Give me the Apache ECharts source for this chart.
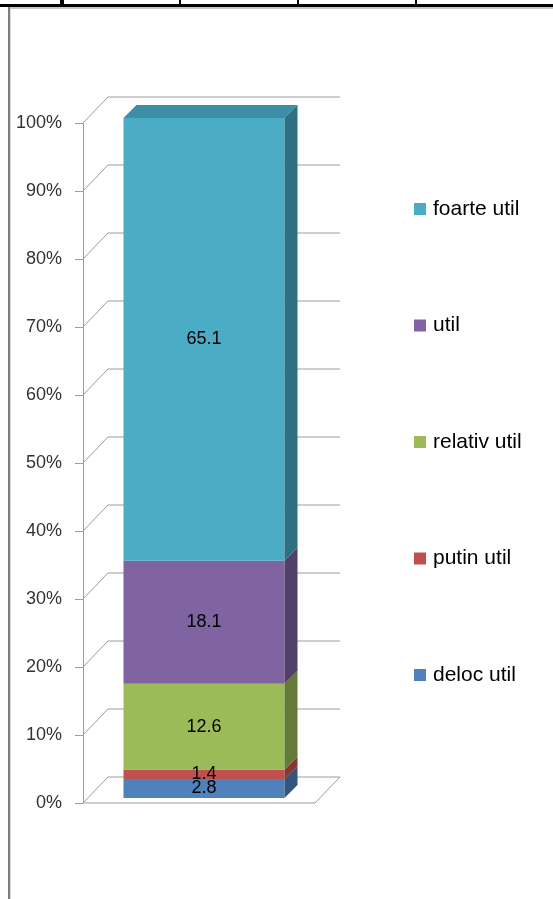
<!DOCTYPE html>
<html>
<head>
<meta charset="utf-8">
<script src="https://cdn.jsdelivr.net/npm/echarts@6/dist/echarts.min.js"></script>
<style>
  html, body { margin: 0; padding: 0; background: #ffffff; }
  #chart { width: 553px; height: 899px; }
</style>
</head>
<body>
<div id="chart"></div>
<script>
// Answer categories, stacked bottom to top, and their shares (%)
const categories = ['deloc util', 'putin util', 'relativ util', 'util', 'foarte util'];
const values = [2.8, 1.4, 12.6, 18.1, 65.1];
const faceColors = ['#4F81BD', '#C0504D', '#9BBB59', '#8064A2', '#4BACC6'];
const sideColors = ['#34557D', '#853735', '#647A38', '#52406B', '#2F6F82'];
const topColor = '#3B8EA5';
const yTicks = [0, 10, 20, 30, 40, 50, 60, 70, 80, 90, 100];
const legendOrder = ['foarte util', 'util', 'relativ util', 'putin util', 'deloc util'];

// 3D look: offsets in pixels
const WALL_DEPTH = [25, -26];   // front plane -> back wall
const BAR_SHIFT = [5, -5];      // front plane -> bar front face
const BAR_DEPTH = [13, -13];    // bar front face -> bar back face
const BAR_RATIO = 0.694;        // bar width as share of the category band
const FONT = '"Liberation Sans", Arial, sans-serif';
const GRID_COLOR = '#9c9c9c';

const chart = echarts.init(document.getElementById('chart'), null, { renderer: 'canvas' });

// Back wall gridlines and floor, one item per tick value
const wallSeries = {
  type: 'custom',
  name: 'wall',
  silent: true,
  z: 1,
  data: yTicks.map(v => [0, v]),
  renderItem: function (params, api) {
    const v = api.value(1);
    const p = api.coord([0, v]);
    const bw = api.size([1, 0])[0];
    const left = p[0] - bw / 2;
    const right = p[0] + bw / 2;
    const y = p[1];
    const style = { stroke: GRID_COLOR, lineWidth: 1, fill: null };
    const children = [{
      type: 'polyline',
      shape: { points: [[left, y], [left + WALL_DEPTH[0], y + WALL_DEPTH[1]], [right + WALL_DEPTH[0], y + WALL_DEPTH[1]]] },
      style: style
    }];
    if (v === 0) {
      children.push({
        type: 'polyline',
        shape: { points: [[left, y], [right, y], [right + WALL_DEPTH[0], y + WALL_DEPTH[1]]] },
        style: style
      });
    }
    return { type: 'group', children: children };
  }
};

// Stacked 3D column segments
let base = 0;
const barSeries = categories.map((name, i) => {
  const start = base;
  base += values[i];
  const isTop = i === categories.length - 1;
  return {
    type: 'custom',
    name: name,
    z: 2,
    itemStyle: { color: faceColors[i] },
    data: [[0, start, start + values[i], values[i]]],
    renderItem: function (params, api) {
      const p0 = api.coord([0, api.value(1)]);
      const p1 = api.coord([0, api.value(2)]);
      const bw = api.size([1, 0])[0] * BAR_RATIO;
      const cx = p0[0] + BAR_SHIFT[0];
      const xl = cx - bw / 2;
      const xr = cx + bw / 2;
      const yb = p0[1] + BAR_SHIFT[1];
      const yt = p1[1] + BAR_SHIFT[1];
      const dx = BAR_DEPTH[0], dy = BAR_DEPTH[1];
      const children = [
        {
          type: 'rect',
          shape: { x: xl, y: yt, width: bw, height: yb - yt },
          style: { fill: faceColors[i] }
        },
        {
          type: 'polygon',
          shape: { points: [[xr, yt], [xr + dx, yt + dy], [xr + dx, yb + dy], [xr, yb]] },
          style: { fill: sideColors[i] }
        }
      ];
      if (isTop) {
        children.push({
          type: 'polygon',
          shape: { points: [[xl, yt], [xr, yt], [xr + dx, yt + dy], [xl + dx, yt + dy]] },
          style: { fill: topColor }
        });
      }
      children.push({
        type: 'text',
        z2: 100,
        style: {
          x: cx,
          y: (yt + yb) / 2,
          text: api.value(3).toFixed(1),
          fill: '#000000',
          font: '18px ' + FONT,
          align: 'center',
          verticalAlign: 'middle'
        }
      });
      return { type: 'group', children: children };
    }
  };
});

const option = {
  backgroundColor: '#ffffff',
  animation: false,
  grid: { left: 83, top: 123, width: 232, height: 680, containLabel: false },
  xAxis: {
    type: 'category',
    data: [''],
    show: false
  },
  yAxis: {
    type: 'value',
    min: 0,
    max: 100,
    interval: 10,
    axisLine: { show: true, lineStyle: { color: GRID_COLOR, width: 1 } },
    axisTick: { show: true, length: 8, lineStyle: { color: GRID_COLOR, width: 1 } },
    axisLabel: {
      formatter: '{value}%',
      fontSize: 18,
      fontFamily: FONT,
      color: '#333333',
      margin: 21
    },
    splitLine: { show: false }
  },
  legend: {
    data: legendOrder,
    orient: 'vertical',
    left: 414,
    top: 198,
    padding: 0,
    icon: 'rect',
    itemWidth: 12,
    itemHeight: 12,
    itemGap: 94.5,
    selectedMode: false,
    textStyle: { fontSize: 21, lineHeight: 22, fontFamily: FONT, color: '#000000', padding: [0, 0, 0, 2] }
  },
  graphic: [
    { type: 'rect', silent: true, shape: { x: 0, y: 4, width: 553, height: 3 }, style: { fill: '#000000' } },
    { type: 'rect', silent: true, shape: { x: 60, y: 0, width: 4, height: 4 }, style: { fill: '#000000' } },
    { type: 'rect', silent: true, shape: { x: 179, y: 0, width: 2, height: 4 }, style: { fill: '#000000' } },
    { type: 'rect', silent: true, shape: { x: 297, y: 0, width: 2, height: 4 }, style: { fill: '#000000' } },
    { type: 'rect', silent: true, shape: { x: 415, y: 0, width: 2, height: 4 }, style: { fill: '#000000' } },
    { type: 'rect', silent: true, shape: { x: 9, y: 7, width: 544, height: 2 }, style: { fill: '#c4c4c4' } },
    { type: 'rect', silent: true, shape: { x: 8, y: 7, width: 2, height: 892 }, style: { fill: '#7f7f7f' } },
    { type: 'rect', silent: true, shape: { x: 10, y: 9, width: 1, height: 890 }, style: { fill: '#dcdcdc' } }
  ],
  series: [wallSeries].concat(barSeries)
};

chart.setOption(option);
</script>
</body>
</html>
